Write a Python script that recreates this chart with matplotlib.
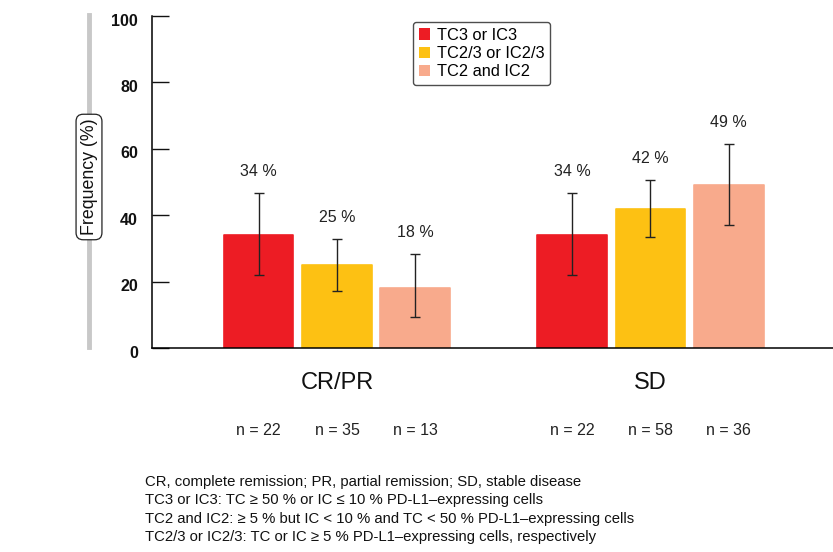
import matplotlib
matplotlib.use("Agg")
import matplotlib.pyplot as plt
import matplotlib.transforms as mtransforms
from matplotlib.patches import Patch
from matplotlib.lines import Line2D

plt.rcParams['font.family'] = ['Liberation Sans', 'DejaVu Sans']

groups = ["CR/PR", "SD"]
series = ["TC3 or IC3", "TC2/3 or IC2/3", "TC2 and IC2"]
colors = ["#ED1C24", "#FDC113", "#F8AA8C"]
values = {"CR/PR": [34, 25, 18], "SD": [34, 42, 49]}
err_low = {"CR/PR": [22, 17.2, 9.3], "SD": [22, 33.5, 37.0]}
err_high = {"CR/PR": [46.7, 32.8, 28.3], "SD": [46.7, 50.7, 61.5]}
n_counts = {"CR/PR": [22, 35, 13], "SD": [22, 58, 36]}
yticks = [0, 20, 40, 60, 80, 100]
footnotes = [
    "CR, complete remission; PR, partial remission; SD, stable disease",
    "TC3 or IC3: TC \u2265 50 % or IC \u2264 10 % PD-L1\u2013expressing cells",
    "TC2 and IC2: \u2265 5 % but IC < 10 % and TC < 50 % PD-L1\u2013expressing cells",
    "TC2/3 or IC2/3: TC or IC \u2265 5 % PD-L1\u2013expressing cells, respectively",
]

W, H = 833, 552
fig = plt.figure(figsize=(W / 100, H / 100), dpi=100)
ax = fig.add_axes([152 / W, 1 - 348 / H, (W - 152) / W, (348 - 16) / H])

group_pos = [0, 4]
offsets = [-1, 0, 1]
width = 0.89

for g, gx in zip(groups, group_pos):
    for i, off in enumerate(offsets):
        x = gx + off
        v = values[g][i]
        ax.bar(x, v, width=width, color=colors[i], edgecolor=colors[i],
               linewidth=1.2, joinstyle='round', zorder=2)
        lo, hi = err_low[g][i], err_high[g][i]
        ax.errorbar(x, v, yerr=[[v - lo], [hi - v]], fmt='none',
                    ecolor='#222222', elinewidth=1.0, capsize=3.5,
                    capthick=1.0, zorder=3)
        ax.text(x, hi + 6.5, f"{v} %", ha='center', va='center',
                fontsize=11.5, color='#222222')
        ax.text(x, -24.7, f"n = {n_counts[g][i]}", ha='center', va='center',
                fontsize=11.5, color='#222222', clip_on=False)
    ax.text(gx, -10.6, g, ha='center', va='center', fontsize=17,
            color='#111111', clip_on=False)

ax.set_xlim(-2.36, 6.33)
ax.set_ylim(0, 100)
ax.set_yticks(yticks)
ax.set_yticklabels([str(t) for t in yticks], fontweight='bold', fontsize=11.5)
ax.tick_params(axis='y', direction='in', length=12, width=1, pad=10,
               colors='#111111')
shift = mtransforms.ScaledTranslation(0, -0.035, fig.dpi_scale_trans)
for lab in ax.get_yticklabels():
    lab.set_transform(lab.get_transform() + shift)
ax.set_xticks([])
for s in ['top', 'right']:
    ax.spines[s].set_visible(False)
ax.spines['left'].set_linewidth(1.1)
ax.spines['bottom'].set_linewidth(1.1)

# vertical gray bar behind y-label
fig.add_artist(Line2D([89 / W, 89 / W], [1 - 15 / H, 1 - 347 / H],
                      transform=fig.transFigure, color='#c8c8c8',
                      linewidth=3.5, zorder=1))
fig.text(89 / W, 1 - 177 / H, "Frequency (%)", rotation=90, ha='center',
         va='center', fontsize=12.8, color='#111111', zorder=5,
         bbox=dict(boxstyle='round,pad=0.25,rounding_size=0.4', fc='white',
                   ec='#222222', lw=0.9))

handles = [Patch(facecolor=c, edgecolor='none', label=s)
           for c, s in zip(colors, series)]
leg = fig.legend(handles=handles, loc='upper left',
                 bbox_to_anchor=(413 / W, 1 - 22 / H), borderaxespad=0,
                 fontsize=11.8, frameon=True, fancybox=True,
                 handlelength=0.7, handleheight=0.7, handletextpad=0.4,
                 labelspacing=0.2, borderpad=0.35, edgecolor='#222222')
leg.get_frame().set_linewidth(1.0)

for k, line in enumerate(footnotes):
    fig.text(145 / W, 1 - (482 + k * 18.3) / H, line, ha='left', va='center',
             fontsize=10.7, color='#111111')

fig.savefig("out.png", dpi=100)
